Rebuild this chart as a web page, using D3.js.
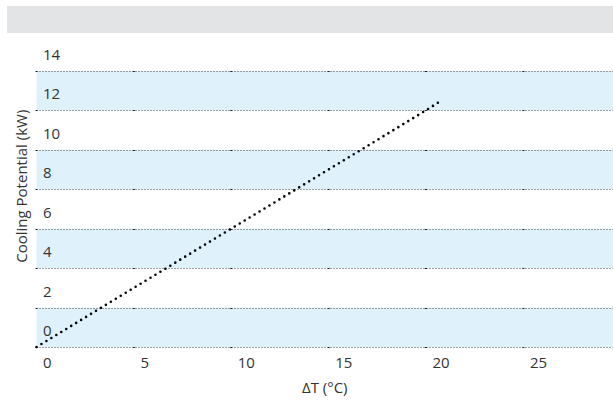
<!DOCTYPE html>
<html>
<head>
<meta charset="utf-8">
<script src="https://cdn.jsdelivr.net/npm/d3@7"></script>
<style>
  body { margin: 0; background: #fff; }
  text { font-family: "Open Sans", sans-serif; fill: #333; }
</style>
</head>
<body>
<div id="chart"></div>
<script>
// values
const deltaT = [0, 5, 10, 15, 20, 20.8];
const coolingKW = [0, 3, 6, 9, 12, 12.5];
const yTicks = [0, 2, 4, 6, 8, 10, 12, 14];
const xTicks = [0, 5, 10, 15, 20, 25];

const width = 613, height = 401;
const plot = { left: 36.5, right: 613, top: 31.4, bottom: 347 };

const x = d3.scaleLinear().domain([0, 29.6]).range([plot.left, plot.right]);
const y = d3.scaleLinear().domain([0, 16]).range([plot.bottom, plot.top]);

const svg = d3.select("#chart").append("svg")
    .attr("width", width)
    .attr("height", height);

// alternating bands
svg.selectAll("rect.band")
    .data(yTicks.filter((d, i) => i % 2 === 0))
    .enter()
    .append("rect")
    .attr("class", "band")
    .attr("x", plot.left)
    .attr("width", plot.right - plot.left)
    .attr("y", d => y(d + 2))
    .attr("height", d => y(d) - y(d + 2))
    .attr("fill", "#dff1fb");

// header bar
svg.append("rect")
    .attr("x", 7)
    .attr("y", 6)
    .attr("width", width - 7)
    .attr("height", 27)
    .attr("fill", "#e3e4e6");

// dotted gridlines
svg.selectAll("line.grid")
    .data(yTicks)
    .enter()
    .append("line")
    .attr("class", "grid")
    .attr("x1", plot.left)
    .attr("x2", plot.right)
    .attr("y1", d => Math.round(y(d)) + 0.5)
    .attr("y2", d => Math.round(y(d)) + 0.5)
    .attr("stroke", "#444")
    .attr("stroke-width", 1)
    .attr("stroke-dasharray", "1,2");

// small marks where x ticks meet the gridlines
yTicks.forEach(t => {
    svg.selectAll(null)
        .data(xTicks)
        .enter()
        .append("rect")
        .attr("x", d => x(d) - 1)
        .attr("y", Math.round(y(t)))
        .attr("width", 2)
        .attr("height", 1)
        .attr("fill", "#222");
});

// y labels, sitting above their gridline
svg.selectAll("text.ylab")
    .data(yTicks)
    .enter()
    .append("text")
    .attr("class", "ylab")
    .attr("x", plot.left + 6.5)
    .attr("y", d => y(d) - 11)
    .attr("font-size", 15)
    .text(d => d);

// x labels
svg.selectAll("text.xlab")
    .data(xTicks)
    .enter()
    .append("text")
    .attr("class", "xlab")
    .attr("x", d => x(d) + 6.5)
    .attr("y", 367.5)
    .attr("font-size", 15)
    .text(d => d);

// axis titles
svg.append("text")
    .attr("x", (plot.left + plot.right) / 2)
    .attr("y", 393)
    .attr("text-anchor", "middle")
    .attr("font-size", 15)
    .text("ΔT (°C)");

svg.append("text")
    .attr("transform", `translate(26.5, ${(plot.top + plot.bottom) / 2 - 3}) rotate(-90)`)
    .attr("text-anchor", "middle")
    .attr("font-size", 15)
    .text("Cooling Potential (kW)");

// the dotted line
const line = d3.line()
    .x((d, i) => x(deltaT[i]))
    .y(d => y(d));

svg.append("path")
    .datum(coolingKW)
    .attr("d", line)
    .attr("fill", "none")
    .attr("stroke", "#000")
    .attr("stroke-width", 2.6)
    .attr("stroke-linecap", "round")
    .attr("stroke-dasharray", "0,5.8");
</script>
</body>
</html>
